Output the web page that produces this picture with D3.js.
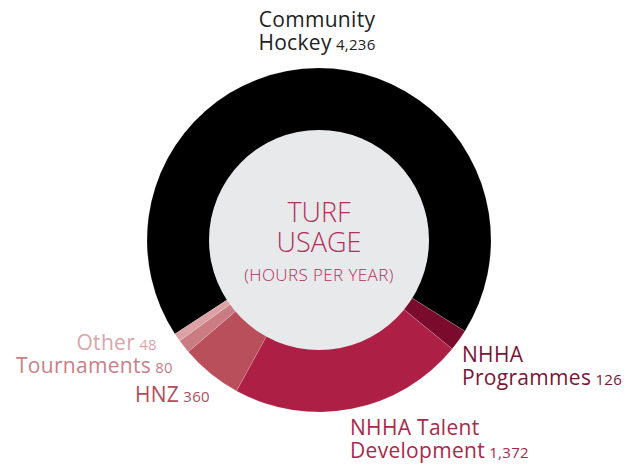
<!DOCTYPE html>
<html>
<head>
<meta charset="utf-8">
<script src="https://cdn.jsdelivr.net/npm/d3@7"></script>
<style>
  body { margin: 0; background: #fff; }
  text { font-family: "Open Sans", Lato, sans-serif; font-weight: 400; }
</style>
</head>
<body>
<div id="chart"></div>
<script>
var width = 638;
var height = 464;

// turf usage, hours per year, clockwise from Community Hockey
var categories = ["Community Hockey", "NHHA Programmes", "NHHA Talent Development", "HNZ", "Tournaments", "Other"];
var hours = [4236, 126, 1372, 360, 80, 48];
var colours = ["#000000", "#7a0b2c", "#ad1f45", "#b94f5b", "#cb7c82", "#dca1a4"];
var labelColours = ["#222222", "#7a1535", "#a8294b", "#b64c5b", "#c98087", "#dba5a8"];

var data = categories.map(function (c, i) {
  return { name: c, value: hours[i] };
});

var cx = 319, cy = 240;
var outerR = 172, innerR = 110;

var svg = d3.select("#chart")
  .append("svg")
  .attr("width", width)
  .attr("height", height);

var pie = d3.pie()
  .sort(null)
  .value(function (d) { return d.value; })
  .startAngle(-123.1 * Math.PI / 180)
  .endAngle((360 - 123.1) * Math.PI / 180);

var arc = d3.arc().innerRadius(innerR - 1).outerRadius(outerR);

var g = svg.append("g").attr("transform", "translate(" + cx + "," + cy + ")");

g.selectAll("path")
  .data(pie(data))
  .enter()
  .append("path")
  .attr("d", arc)
  .style("fill", function (d, i) { return colours[i]; })
  .style("stroke", "rgba(255,255,255,0.25)")
  .style("stroke-width", 0.6);

// centre disc
g.append("circle")
  .attr("r", innerR)
  .style("fill", "#e8e9eb");

var title = g.append("text")
  .attr("text-anchor", "middle")
  .attr("font-size", "27px")
  .style("font-weight", 300)
  .style("fill", "#b0305a");
title.append("tspan").attr("x", 0).attr("y", -18).text("TURF");
title.append("tspan").attr("x", 0).attr("dy", 30).text("USAGE");
title.append("tspan")
  .attr("x", 0)
  .attr("dy", 29)
  .attr("font-size", "17px")
  .style("letter-spacing", "0.4px")
  .text("(HOURS PER YEAR)");

// labels
var fmt = d3.format(",");
var labels = [
  { i: 0, x: 317, y: 27, anchor: "middle", lines: ["Community", "Hockey"] },
  { i: 1, x: 462, y: 362, anchor: "start", lines: ["NHHA", "Programmes"] },
  { i: 2, x: 350, y: 435, anchor: "start", lines: ["NHHA Talent", "Development"] },
  { i: 3, x: 210, y: 402, anchor: "end", lines: ["HNZ"] },
  { i: 4, x: 173, y: 373, anchor: "end", lines: ["Tournaments"] },
  { i: 5, x: 157, y: 350, anchor: "end", lines: ["Other"] }
];

labels.forEach(function (l) {
  var t = svg.append("text")
    .attr("y", l.y)
    .attr("text-anchor", l.anchor)
    .attr("font-size", "21px")
    .style("letter-spacing", "0.3px")
    .style("fill", labelColours[l.i]);
  l.lines.forEach(function (line, k) {
    var s = t.append("tspan")
      .attr("x", l.x)
      .attr("dy", k == 0 ? 0 : 23);
    s.append("tspan").text(line);
    if (k == l.lines.length - 1) {
      s.append("tspan")
        .attr("font-size", "15px")
        .text(" " + fmt(hours[l.i]));
    }
  });
});
</script>
</body>
</html>
